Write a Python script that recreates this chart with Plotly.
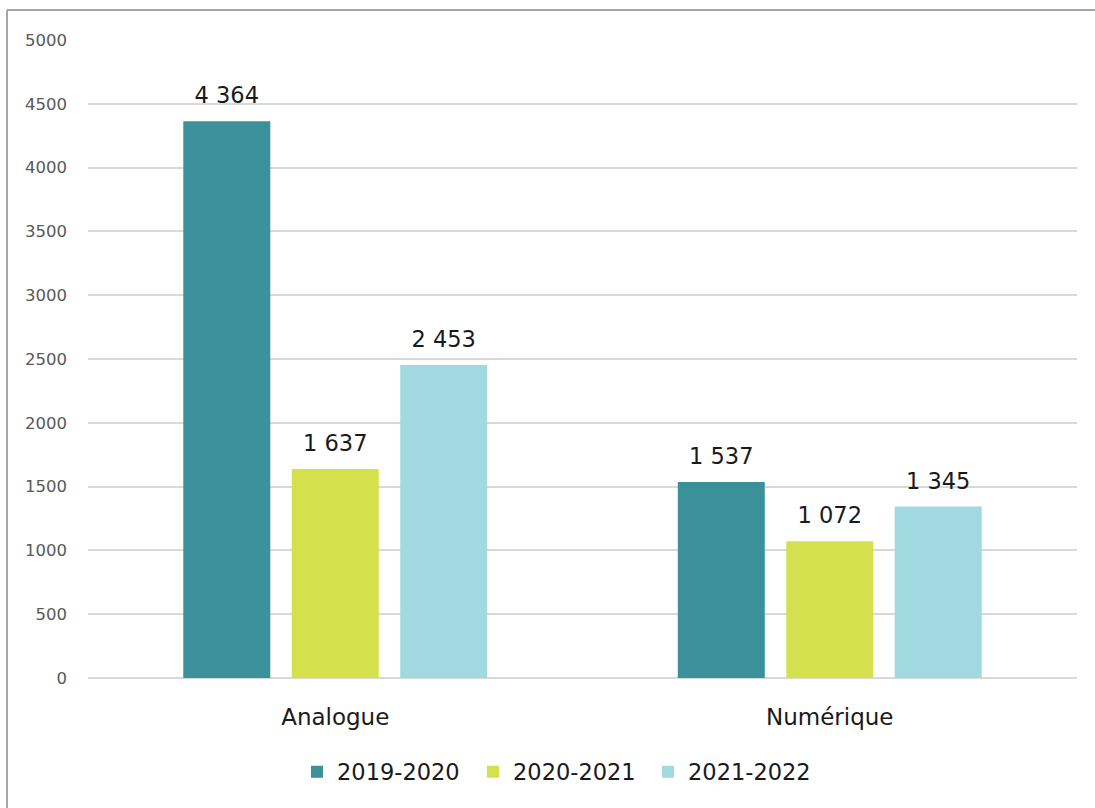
import plotly.graph_objects as go

categories = ["Analogue", "Numérique"]
series_names = ["2019-2020", "2020-2021", "2021-2022"]
values_2019 = [4364, 1537]
values_2020 = [1637, 1072]
values_2021 = [2453, 1345]
colors = ["#3A9199", "#D5E04D", "#A1D9E0"]
y_ticks = [0, 500, 1000, 1500, 2000, 2500, 3000, 3500, 4000, 4500, 5000]

series_values = [values_2019, values_2020, values_2021]
legend_ids = ["legend", "legend2", "legend3"]
legend_text_px = [337, 513, 688]

fig = go.Figure()
for name, vals, col, lg in zip(series_names, series_values, colors, legend_ids):
    fig.add_trace(go.Bar(
        x=categories, y=vals, name=name, marker=dict(color=col, line=dict(width=0)),
        hoverinfo="skip", legend=lg,
    ))
for name, vals in zip(series_names, series_values):
    fig.add_trace(go.Scatter(
        x=categories, y=vals, mode="markers+text", showlegend=False,
        marker=dict(size=18, color="rgba(0,0,0,0)"),
        text=[f"{v:,}".replace(",", " ") for v in vals],
        textposition="top center",
        textfont=dict(family="DejaVu Sans", size=22.5, color="#1a1a1a"),
        hoverinfo="skip", cliponaxis=False,
    ))

L, R, T, B = 88, 18, 40, 130
W, H = 1095, 808
pw, ph = W - L - R, H - T - B

legend_common = dict(
    orientation="h", xanchor="left",
    y=(678 - 772) / ph, yanchor="middle",
    font=dict(family="DejaVu Sans", size=22.5, color="#1a1a1a"),
    bgcolor="rgba(0,0,0,0)", itemwidth=30,
)
legend_layout = {}
for lg, tx in zip(legend_ids, legend_text_px):
    legend_layout[lg] = dict(legend_common, x=(tx - 40 - L) / pw)

fig.update_layout(
    width=W, height=H,
    margin=dict(l=L, r=R, t=T, b=B),
    paper_bgcolor="white", plot_bgcolor="white",
    barmode="group", bargap=0.342, bargroupgap=0.198,
    scattermode="group", scattergap=0.342,
    font=dict(family="DejaVu Sans", color="#595959"),
    showlegend=True,
    **legend_layout,
    xaxis=dict(
        showgrid=False, showline=False, zeroline=False,
        tickfont=dict(family="DejaVu Sans", size=23, color="#1a1a1a"),
        ticks="", ticklabelstandoff=23,
    ),
    yaxis=dict(
        range=[0, 5000], tickvals=y_ticks, tickformat="d",
        showgrid=True, gridcolor="#D9D9D9", gridwidth=1.5,
        zeroline=True, zerolinecolor="#D9D9D9", zerolinewidth=1.5,
        showline=False, ticks="",
        tickfont=dict(family="DejaVu Sans", size=16.5, color="#595959"),
        ticklabelstandoff=20,
    ),
    shapes=[
        dict(type="line", xref="paper", yref="paper",
             x0=(7 - L) / pw, x1=(W + 5 - L) / pw,
             y0=(678 - 10) / ph, y1=(678 - 10) / ph,
             line=dict(color="#A6A6A6", width=2)),
        dict(type="line", xref="paper", yref="paper",
             x0=(7 - L) / pw, x1=(7 - L) / pw,
             y0=(678 - 10) / ph, y1=(678 - H - 5) / ph,
             line=dict(color="#A6A6A6", width=2)),
    ],
)

fig.write_html("out.html")
